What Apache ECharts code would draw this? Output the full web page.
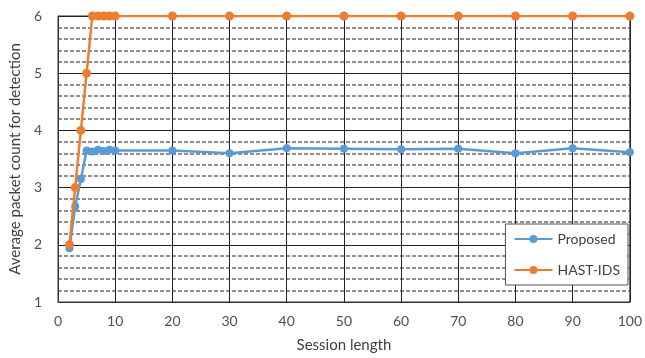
<!DOCTYPE html>
<html>
<head>
<meta charset="utf-8">
<script src="https://cdn.jsdelivr.net/npm/echarts@6/dist/echarts.min.js"></script>
<style>html,body{margin:0;padding:0;background:#fff}#c{width:645px;height:358px}</style>
</head>
<body>
<div id="c"></div>
<script>
var sessionLengths = [2, 3, 4, 5, 6, 7, 8, 9, 10, 20, 30, 40, 50, 60, 70, 80, 90, 100];
var proposed = [1.94, 2.67, 3.15, 3.65, 3.63, 3.66, 3.64, 3.66, 3.65, 3.65, 3.60, 3.69, 3.68, 3.67, 3.68, 3.60, 3.69, 3.62];
var hastIds = [2, 3, 4, 5, 6, 6, 6, 6, 6, 6, 6, 6, 6, 6, 6, 6, 6, 6];
var seriesNames = ['Proposed', 'HAST-IDS'];
var xTitle = 'Session length';
var yTitle = 'Average packet count for detection';

function pairs(xs, ys) { return xs.map(function (x, i) { return [x, ys[i]]; }); }

var font = 'Lato, "Open Sans", sans-serif';
var chart = echarts.init(document.getElementById('c'));
chart.setOption({
  animation: false,
  backgroundColor: '#fff',
  grid: { left: 58, right: 11, top: 16, bottom: 55, show: true, borderColor: '#333', borderWidth: 1 },
  xAxis: {
    type: 'value', min: 0, max: 100, interval: 10,
    name: xTitle, nameLocation: 'middle', nameGap: 36,
    nameTextStyle: { fontFamily: font, fontSize: 15, color: '#404040' },
    axisLine: { show: true, lineStyle: { color: '#333' } },
    axisTick: { show: false },
    axisLabel: { fontFamily: font, fontSize: 14, color: '#505050', margin: 12 },
    splitLine: { show: true, lineStyle: { color: '#222', width: 1 } }
  },
  yAxis: {
    type: 'value', min: 1, max: 6, interval: 1,
    name: yTitle, nameLocation: 'middle', nameGap: 30,
    nameTextStyle: { fontFamily: font, fontSize: 15, color: '#404040' },
    axisLine: { show: true, lineStyle: { color: '#333' } },
    axisTick: { show: false },
    axisLabel: { fontFamily: font, fontSize: 14, color: '#505050', margin: 16 },
    splitLine: { show: true, lineStyle: { color: '#222', width: 1 } },
    minorTick: { show: false, splitNumber: 5 },
    minorSplitLine: { show: true, lineStyle: { color: '#6a6a6a', width: 1.5, type: [4, 2] } }
  },
  legend: {
    orient: 'vertical', right: 17, top: 224,
    data: seriesNames,
    backgroundColor: '#fff', borderColor: '#555', borderWidth: 1,
    padding: [8, 8, 8, 8], itemWidth: 38, itemHeight: 10, itemGap: 17,
    textStyle: { fontFamily: font, fontSize: 14, color: '#404040' }
  },
  series: [
    {
      name: seriesNames[0], type: 'line', data: pairs(sessionLengths, proposed),
      symbol: 'circle', symbolSize: 8, z: 3,
      lineStyle: { color: '#5B9BD5', width: 2.5 }, itemStyle: { color: '#5B9BD5' }
    },
    {
      name: seriesNames[1], type: 'line', data: pairs(sessionLengths, hastIds),
      symbol: 'circle', symbolSize: 9, z: 4,
      lineStyle: { color: '#ED7D31', width: 2.5 }, itemStyle: { color: '#ED7D31' }
    }
  ]
});
</script>
</body>
</html>
